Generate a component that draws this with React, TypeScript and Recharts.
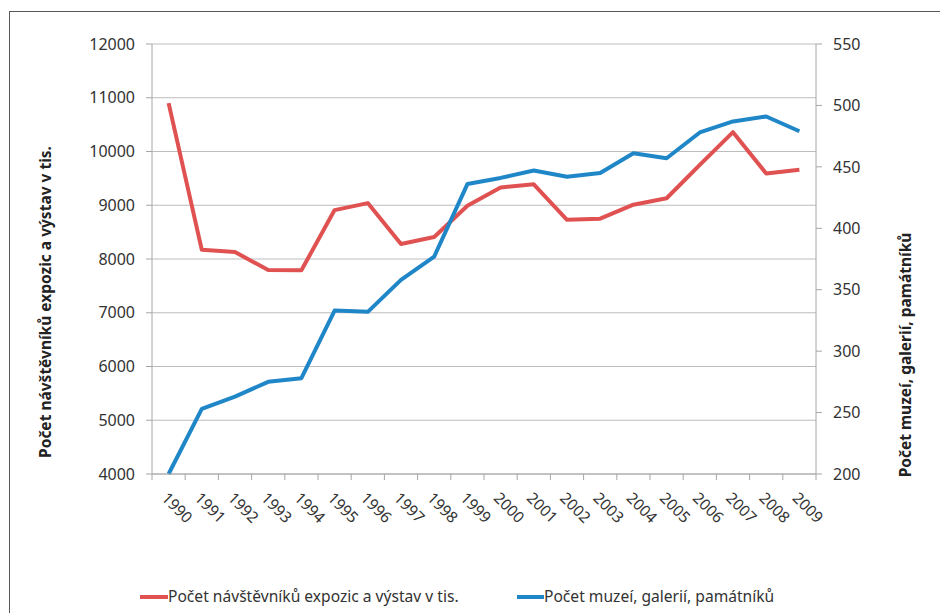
import React from 'react';
import { LineChart, Line, XAxis, YAxis, CartesianGrid, Legend } from 'recharts';

const YEARS = ['1990','1991','1992','1993','1994','1995','1996','1997','1998','1999','2000','2001','2002','2003','2004','2005','2006','2007','2008','2009'];
const VISITORS = [10900, 8170, 8130, 7795, 7790, 8910, 9040, 8280, 8410, 8990, 9330, 9390, 8730, 8750, 9010, 9130, 9750, 10360, 9590, 9660];
const MUSEUMS = [200, 253, 263, 275, 278, 333, 332, 358, 377, 436, 441, 447, 442, 445, 461, 457, 478, 487, 491, 479];
const LEFT_TICKS = [4000, 5000, 6000, 7000, 8000, 9000, 10000, 11000, 12000];
const RIGHT_TICKS = [200, 250, 300, 350, 400, 450, 500, 550];
const VISITORS_NAME = 'Počet návštěvníků expozic a výstav v tis.';
const MUSEUMS_NAME = 'Počet muzeí, galerií, památníků';
const SERIES_ORDER = ['visitors', 'museums'];

const data = YEARS.map((year, i) => ({ year, visitors: VISITORS[i], museums: MUSEUMS[i] }));

const W = 940;
const H = 613;
const PLOT_LEFT = 152;
const PLOT_RIGHT = 816;
const BAND = (PLOT_RIGHT - PLOT_LEFT) / YEARS.length;
const FONT = '"Noto Sans", sans-serif';
const AXIS_COLOR = '#a6a6a6';
const TEXT_COLOR = '#333333';
const RED = '#E05252';
const BLUE = '#1F86C7';

const YearTick = (props: any) => {
  const { x, y, payload, index } = props;
  const tx = x - 4;
  const ty = y + 15;
  return (
    <g>
      <line x1={x - BAND / 2} y1={y - 6} x2={x - BAND / 2} y2={y} stroke={AXIS_COLOR} strokeWidth={1} />
      {index === YEARS.length - 1 && (
        <line x1={x + BAND / 2} y1={y - 6} x2={x + BAND / 2} y2={y} stroke={AXIS_COLOR} strokeWidth={1} />
      )}
      <text
        x={tx}
        y={ty}
        dy="0.36em"
        textAnchor="start"
        transform={`rotate(45, ${tx}, ${ty})`}
        fill={TEXT_COLOR}
        fontSize={15.5}
        fontFamily={FONT}
      >
        {payload.value}
      </text>
    </g>
  );
};

const LeftTitle = () => (
  <text
    x={45}
    y={302}
    transform="rotate(-90, 45, 302)"
    textAnchor="middle"
    dominantBaseline="central"
    fontWeight="bold"
    fontSize={15.5}
    fontFamily={FONT}
    fill="#222"
  >
    {VISITORS_NAME}
  </text>
);

const RightTitle = () => (
  <text
    x={905}
    y={355}
    transform="rotate(-90, 905, 355)"
    textAnchor="middle"
    dominantBaseline="central"
    fontWeight="bold"
    fontSize={15.5}
    fontFamily={FONT}
    fill="#222"
  >
    {MUSEUMS_NAME}
  </text>
);

const LEGEND_POS = [
  { line: 140, text: 168 },
  { line: 517, text: 544 },
];

const LegendContent = (props: any) => {
  const items = [...(props.payload || [])].sort(
    (a: any, b: any) => SERIES_ORDER.indexOf(a.dataKey) - SERIES_ORDER.indexOf(b.dataKey)
  );
  return (
    <div style={{ position: 'relative', width: W, height: 30 }}>
      {items.map((item: any, i: number) => {
        const pos = LEGEND_POS[i] || LEGEND_POS[0];
        return (
          <div key={i}>
            <div
              style={{
                position: 'absolute',
                left: pos.line,
                top: 13,
                width: pos.text - pos.line,
                height: 4,
                background: item.color,
              }}
            />
            <div
              style={{
                position: 'absolute',
                left: pos.text,
                top: 3,
                fontFamily: FONT,
                fontSize: 15.6,
                color: TEXT_COLOR,
                whiteSpace: 'nowrap',
                lineHeight: '22px',
              }}
            >
              {item.value}
            </div>
          </div>
        );
      })}
    </div>
  );
};

export default function App() {
  return (
    <div style={{ position: 'fixed', left: 0, top: 0, width: W, height: H, overflow: 'hidden', background: '#fff' }}>
      <div
        style={{
          position: 'absolute',
          left: 9,
          top: 11,
          width: 1000,
          height: 700,
          border: '1.5px solid #595959',
          boxSizing: 'border-box',
        }}
      />
      <div style={{ position: 'absolute', left: 0, top: 0 }}>
        <LineChart
          width={W}
          height={H}
          data={data}
          margin={{ top: 44, right: 24, bottom: 1, left: 52 }}
        >
          <CartesianGrid yAxisId="left" vertical={false} stroke="#bdbdbd" strokeWidth={1.2} />
          <XAxis
            dataKey="year"
            interval={0}
            height={108}
            padding={{ left: BAND / 2, right: BAND / 2 }}
            tickSize={6}
            tickMargin={0}
            tickLine={false}
            axisLine={{ stroke: AXIS_COLOR, strokeWidth: 1 }}
            tick={<YearTick />}
          />
          <YAxis
            yAxisId="left"
            orientation="left"
            width={100}
            domain={[4000, 12000]}
            ticks={LEFT_TICKS}
            interval={0}
            tickSize={6}
            tickMargin={11}
            axisLine={{ stroke: AXIS_COLOR }}
            tickLine={{ stroke: AXIS_COLOR }}
            tick={{ fill: TEXT_COLOR, fontSize: 16, fontFamily: FONT }}
            label={{ content: () => <LeftTitle /> }}
          />
          <YAxis
            yAxisId="right"
            orientation="right"
            width={100}
            domain={[200, 550]}
            ticks={RIGHT_TICKS}
            interval={0}
            tickSize={6}
            tickMargin={11}
            axisLine={{ stroke: AXIS_COLOR }}
            tickLine={{ stroke: AXIS_COLOR }}
            tick={{ fill: TEXT_COLOR, fontSize: 16, fontFamily: FONT }}
            label={{ content: () => <RightTitle /> }}
          />
          <Legend
            verticalAlign="bottom"
            height={30}
            wrapperStyle={{ left: 0, width: W, height: 30 }}
            content={<LegendContent />}
          />
          <Line
            yAxisId="left"
            type="linear"
            dataKey="visitors"
            name={VISITORS_NAME}
            stroke={RED}
            strokeWidth={4}
            dot={false}
            activeDot={false}
            strokeLinejoin="round"
            isAnimationActive={false}
          />
          <Line
            yAxisId="right"
            type="linear"
            dataKey="museums"
            name={MUSEUMS_NAME}
            stroke={BLUE}
            strokeWidth={4}
            dot={false}
            activeDot={false}
            strokeLinejoin="round"
            isAnimationActive={false}
          />
        </LineChart>
      </div>
    </div>
  );
}
